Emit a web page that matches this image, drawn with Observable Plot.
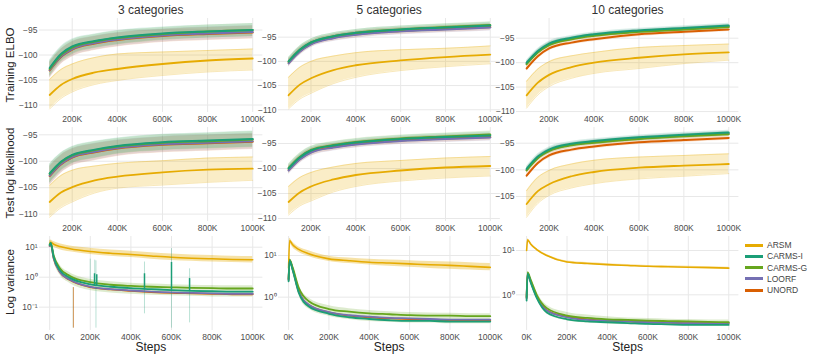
<!DOCTYPE html>
<html><head><meta charset="utf-8">
<script src="https://cdn.jsdelivr.net/npm/d3@7"></script>
<script src="https://cdn.jsdelivr.net/npm/@observablehq/plot@0.6"></script>
<style>
html,body{margin:0;padding:0;background:#fff;}
#root{position:relative;width:814px;height:359px;overflow:hidden;font-family:"Liberation Sans",Arial,sans-serif;}
.t{position:absolute;white-space:nowrap;color:#333;}
.title{font-size:12px;transform:translate(-50%,-50%);}
.ylab{font-size:11.5px;transform:translate(-50%,-50%) rotate(-90deg);color:#222;}
.steps{font-size:12px;transform:translate(-50%,-50%);color:#222;}
.leg{position:absolute;left:745px;font-size:8.5px;color:#444;}
.leg .sw{position:absolute;left:0;width:18px;height:3px;}
.leg .tx{position:absolute;left:22px;transform:translateY(-50%);white-space:nowrap;}
svg{position:absolute;overflow:visible;}
</style></head>
<body><div id="root"></div>
<script>
// ---------- data ----------
const METHODS = ["ARSM", "CARMS-I", "CARMS-G", "LOORF", "UNORD"];
const COLORS = ["#E6AB02", "#1B9E77", "#66A61E", "#7570B3", "#D95F02"];
const colTitles = ["3 categories", "5 categories", "10 categories"];
const rowTitles = ["Training ELBO", "Test log likelihood", "Log variance"];

const stepsK = [100, 150, 200, 300, 400, 600, 800, 1000];
const stepsVarK = [0, 5, 20, 50, 100, 200, 300, 400, 500, 600, 700, 800, 900, 1000];
const xTicksTop = [200, 400, 600, 800, 1000];
const xTicksVar = [0, 200, 400, 600, 800, 1000];
const elboTicks = [-110, -105, -100, -95];

// Training ELBO, 3 categories
const elbo3_ARSM = [-108.0, -106.0, -104.8, -103.5, -102.8, -101.8, -101.1, -100.7];
const elbo3_ARSM_lo = [-110.8, -108.7, -107.4, -105.9, -105.1, -104.1, -103.4, -103.0];
const elbo3_ARSM_hi = [-104.9, -102.9, -101.8, -100.5, -99.8, -99.4, -99.1, -98.8];
const elbo3_CARMSI = [-102.6, -99.8, -98.3, -97.2, -96.5, -95.7, -95.3, -95.0];
const elbo3_CARMSG = [-102.8, -100.0, -98.5, -97.3, -96.6, -95.8, -95.3, -95.0];
const elbo3_LOORF = [-103.0, -100.3, -98.8, -97.6, -96.9, -96.1, -95.7, -95.4];
const elbo3_UNORD = [-103.1, -100.4, -98.9, -97.7, -97.0, -96.2, -95.8, -95.5];
const elbo3_spread = [1.6, 1.5, 1.5, 1.4, 1.4, 1.3, 1.3, 1.3];

// Training ELBO, 5 categories
const elbo5_ARSM = [-107.0, -104.8, -103.5, -101.8, -100.8, -99.8, -99.1, -98.6];
const elbo5_ARSM_lo = [-109.8, -107.8, -106.6, -104.6, -103.3, -101.9, -101.1, -100.5];
const elbo5_ARSM_hi = [-103.3, -101.2, -100.0, -98.9, -98.2, -97.6, -97.3, -96.8];
const elbo5_CARMSI = [-100.0, -97.6, -96.1, -94.8, -94.1, -93.4, -93.0, -92.6];
const elbo5_CARMSG = [-100.0, -97.6, -96.1, -94.8, -94.1, -93.4, -92.9, -92.5];
const elbo5_LOORF = [-100.4, -98.0, -96.5, -95.2, -94.5, -93.8, -93.4, -93.0];
const elbo5_UNORD = [-100.3, -97.9, -96.4, -95.1, -94.4, -93.7, -93.3, -92.9];
const elbo5_spread = [0.8, 0.8, 0.7, 0.7, 0.7, 0.7, 0.7, 0.7];

// Training ELBO, 10 categories
const elbo10_ARSM = [-106.7, -104.1, -102.5, -100.9, -100.0, -99.0, -98.3, -97.9];
const elbo10_ARSM_lo = [-109.3, -106.6, -104.9, -103.2, -102.2, -101.2, -100.2, -99.5];
const elbo10_ARSM_hi = [-103.8, -101.3, -99.8, -98.6, -97.9, -96.9, -96.5, -96.2];
const elbo10_CARMSI = [-100.0, -97.6, -96.1, -94.9, -94.2, -93.4, -92.9, -92.4];
const elbo10_CARMSG = [-100.3, -97.9, -96.4, -95.2, -94.5, -93.7, -93.2, -92.7];
const elbo10_LOORF = [-100.2, -97.8, -96.3, -95.1, -94.4, -93.6, -93.1, -92.6];
const elbo10_UNORD = [-101.2, -98.7, -97.1, -95.9, -95.2, -94.2, -93.7, -93.2];
const elbo10_spread = [0.5, 0.5, 0.5, 0.45, 0.45, 0.45, 0.45, 0.45];

// Test log likelihood, 3 categories
const test3_ARSM = [-107.7, -105.9, -104.9, -103.6, -102.9, -102.1, -101.6, -101.4];
const test3_ARSM_lo = [-110.6, -108.8, -107.7, -106.0, -105.1, -104.5, -104.0, -103.6];
const test3_ARSM_hi = [-104.6, -102.7, -101.7, -100.9, -100.4, -99.9, -99.4, -99.2];
const test3_CARMSI = [-102.3, -100.1, -98.8, -97.8, -97.1, -96.4, -96.1, -95.8];
const test3_CARMSG = [-102.4, -100.2, -98.9, -97.9, -97.2, -96.5, -96.2, -95.9];
const test3_LOORF = [-102.7, -100.5, -99.2, -98.2, -97.5, -96.8, -96.5, -96.2];
const test3_UNORD = [-102.8, -100.6, -99.3, -98.3, -97.6, -96.9, -96.6, -96.3];
const test3_spread = [1.8, 1.7, 1.6, 1.6, 1.5, 1.5, 1.5, 1.5];

// Test log likelihood, 5 categories
const test5_ARSM = [-106.7, -104.8, -103.6, -102.2, -101.3, -100.4, -99.8, -99.5];
const test5_ARSM_lo = [-109.3, -107.5, -106.5, -104.7, -103.6, -102.5, -101.9, -101.5];
const test5_ARSM_hi = [-103.6, -101.8, -100.8, -99.7, -99.0, -98.4, -97.9, -97.6];
const test5_CARMSI = [-100.0, -97.8, -96.4, -95.4, -94.8, -94.1, -93.7, -93.4];
const test5_CARMSG = [-99.9, -97.7, -96.3, -95.3, -94.7, -94.0, -93.6, -93.2];
const test5_LOORF = [-100.4, -98.2, -96.8, -95.8, -95.2, -94.5, -94.1, -93.8];
const test5_UNORD = [-100.3, -98.1, -96.7, -95.7, -95.1, -94.4, -94.0, -93.7];
const test5_spread = [0.8, 0.8, 0.75, 0.7, 0.7, 0.7, 0.7, 0.7];

// Test log likelihood, 10 categories
const test10_ARSM = [-106.4, -104.0, -102.7, -101.2, -100.4, -99.6, -99.2, -98.9];
const test10_ARSM_lo = [-108.9, -106.3, -104.8, -103.4, -102.6, -101.7, -101.2, -100.7];
const test10_ARSM_hi = [-103.9, -101.4, -100.1, -98.9, -98.2, -97.6, -97.3, -97.0];
const test10_CARMSI = [-99.8, -97.5, -96.2, -95.1, -94.6, -93.9, -93.4, -93.0];
const test10_CARMSG = [-100.1, -97.8, -96.5, -95.4, -94.9, -94.2, -93.7, -93.3];
const test10_LOORF = [-100.0, -97.7, -96.4, -95.3, -94.8, -94.1, -93.6, -93.2];
const test10_UNORD = [-101.1, -98.7, -97.3, -96.2, -95.6, -94.8, -94.4, -94.0];
const test10_spread = [0.5, 0.5, 0.5, 0.45, 0.45, 0.45, 0.45, 0.45];

// Log variance, 3 categories
const var3_ARSM = [13, 14.5, 12.5, 10.5, 8.9, 7.2, 6.3, 5.7, 5.1, 4.6, 4.3, 4.1, 3.9, 3.8];
const var3_ARSM_lo = [9.5, 11, 10, 8.3, 7.0, 5.7, 5.0, 4.5, 4.0, 3.6, 3.4, 3.2, 3.1, 3.0];
const var3_ARSM_hi = [16, 17.5, 15.5, 13, 11, 9.2, 8.0, 7.3, 6.5, 5.9, 5.5, 5.3, 5.0, 4.9];
const var3_CARMSI = [12, 14, 4.6, 1.7, 0.95, 0.58, 0.48, 0.43, 0.40, 0.37, 0.35, 0.34, 0.33, 0.33];
const var3_CARMSG = [12, 14, 5.2, 2.0, 1.1, 0.68, 0.56, 0.51, 0.48, 0.46, 0.44, 0.43, 0.42, 0.42];
const var3_LOORF = [11, 13, 4.3, 1.5, 0.82, 0.48, 0.40, 0.36, 0.33, 0.31, 0.30, 0.29, 0.28, 0.28];
const var3_UNORD = [11, 13, 4.2, 1.5, 0.80, 0.47, 0.39, 0.35, 0.32, 0.30, 0.29, 0.28, 0.27, 0.27];
const var3_band_lo = [9, 11, 3.5, 1.2, 0.62, 0.36, 0.30, 0.27, 0.25, 0.24, 0.23, 0.22, 0.22, 0.22];
const var3_band_hi = [15, 17, 6.5, 2.6, 1.4, 0.85, 0.70, 0.63, 0.59, 0.56, 0.54, 0.53, 0.52, 0.52];
// spikes of CARMS-I (and one of UNORD) in the 3-category variance panel
const spikeLightX = [116, 200, 222, 228, 467, 600, 689];
const spikeLightLo = [0.02, 0.55, 0.5, 0.02, 0.06, 0.02, 0.03];
const spikeLightHi = [0.45, 4.0, 3.7, 3.5, 3.2, 9.0, 1.9];
const spikeDarkX = [221, 232, 467, 600, 689];
const spikeDarkLo = [0.5, 0.5, 0.38, 0.37, 0.35];
const spikeDarkHi = [1.3, 1.2, 1.3, 3.1, 0.9];
const spikeUnordX = [117];
const spikeUnordLo = [0.02];
const spikeUnordHi = [0.45];

// Log variance, 5 categories
const var5_ARSM = [5, 23, 18, 14, 11, 8.3, 7.5, 6.9, 6.6, 6.3, 6.0, 5.8, 5.5, 5.2];
const var5_ARSM_lo = [4.3, 20, 15.5, 12, 9.5, 7.2, 6.4, 5.9, 5.5, 5.2, 4.9, 4.7, 4.5, 4.3];
const var5_ARSM_hi = [5.8, 26, 21, 16, 13, 9.6, 8.7, 8.1, 7.8, 7.5, 7.2, 7.0, 6.7, 6.4];
const var5_CARMSI = [2.4, 7.5, 4.5, 1.3, 0.60, 0.40, 0.33, 0.30, 0.28, 0.27, 0.27, 0.26, 0.26, 0.26];
const var5_CARMSG = [2.8, 8.0, 5.2, 1.7, 0.80, 0.52, 0.45, 0.41, 0.39, 0.37, 0.36, 0.36, 0.35, 0.35];
const var5_LOORF = [2.6, 7.6, 4.8, 1.4, 0.66, 0.44, 0.37, 0.34, 0.32, 0.31, 0.30, 0.29, 0.29, 0.29];
const var5_UNORD = [2.6, 7.6, 4.7, 1.4, 0.65, 0.43, 0.36, 0.33, 0.31, 0.30, 0.29, 0.28, 0.28, 0.28];
const var5_band_lo = [2.2, 7.0, 4.0, 1.15, 0.52, 0.35, 0.29, 0.26, 0.25, 0.24, 0.24, 0.23, 0.23, 0.23];
const var5_band_hi = [3.2, 8.6, 6.0, 2.0, 0.95, 0.62, 0.53, 0.48, 0.45, 0.43, 0.42, 0.41, 0.40, 0.40];

// Log variance, 10 categories
const var10_ARSM = [10, 17.4, 14, 10.5, 7.7, 5.5, 5.1, 4.8, 4.6, 4.4, 4.3, 4.2, 4.1, 4.0];
const var10_ARSM_lo = [9.3, 16.4, 13.2, 9.9, 7.3, 5.2, 4.85, 4.55, 4.35, 4.2, 4.1, 4.0, 3.9, 3.8];
const var10_ARSM_hi = [10.7, 18.4, 14.8, 11.1, 8.1, 5.8, 5.35, 5.05, 4.85, 4.6, 4.5, 4.4, 4.3, 4.2];
const var10_CARMSI = [0.74, 3.0, 1.9, 0.85, 0.40, 0.28, 0.25, 0.24, 0.23, 0.22, 0.215, 0.21, 0.21, 0.21];
const var10_CARMSG = [0.90, 3.2, 2.2, 1.0, 0.50, 0.34, 0.30, 0.28, 0.27, 0.26, 0.255, 0.25, 0.245, 0.24];
const var10_LOORF = [0.85, 3.0, 2.0, 0.90, 0.44, 0.31, 0.27, 0.26, 0.25, 0.24, 0.235, 0.23, 0.23, 0.23];
const var10_UNORD = [0.85, 3.0, 2.0, 0.92, 0.45, 0.32, 0.28, 0.26, 0.25, 0.24, 0.235, 0.23, 0.23, 0.23];
const var10_band_lo = [0.7, 2.8, 1.8, 0.80, 0.37, 0.26, 0.23, 0.22, 0.21, 0.205, 0.20, 0.20, 0.195, 0.195];
const var10_band_hi = [1.0, 3.4, 2.5, 1.15, 0.58, 0.40, 0.35, 0.32, 0.30, 0.29, 0.28, 0.275, 0.27, 0.27];

// ---------- layout ----------
const root = document.getElementById("root");
const COLS = [{L: 39.1, R: 262.5}, {L: 278.2, R: 500.1}, {L: 516.4, R: 738.8}];
const ROWS = [{T: 18, B: 112}, {T: 127, B: 221}, {T: 236, B: 330}];
const FONT = "'Liberation Sans', Arial, sans-serif";
const GRID = "#e8e8e8";
const supFmt = d => ({0.1: "10\u207B\u00B9", 1: "10\u2070", 10: "10\u00B9"})[d];

function place(col, row, cfg) {
  const {L, R} = COLS[col], {T, B} = ROWS[row];
  const ml = 40, mr = 6, mt = 4, mb = 18;
  const svg = Plot.plot({
    width: (R - L) + ml + mr, height: (B - T) + mt + mb,
    marginLeft: ml, marginRight: mr, marginTop: mt, marginBottom: mb,
    style: {fontFamily: FONT, fontSize: "8.5px", color: "#4d4d4d", background: "transparent", overflow: "visible"},
    x: {domain: cfg.xDomain},
    y: {type: cfg.yType || "linear", domain: cfg.yDomain},
    color: {domain: METHODS, range: COLORS},
    marks: [
      Plot.gridX(cfg.xTicks, {stroke: GRID, strokeOpacity: 1, strokeWidth: 1}),
      Plot.gridY(cfg.yTicks, {stroke: GRID, strokeOpacity: 1, strokeWidth: 1}),
      Plot.axisX(cfg.xTicks, {tickSize: 0, tickPadding: 3, tickFormat: d => d + "K", label: null, fill: "#4d4d4d"}),
      Plot.axisY(cfg.yTicks, {tickSize: 0, tickPadding: 2, tickFormat: cfg.yFormat, label: null, fill: "#4d4d4d"}),
      ...cfg.marks
    ]
  });
  svg.style.left = (L - ml) + "px";
  svg.style.top = (T - mt) + "px";
  root.appendChild(svg);
}

function curveMarks(arsm, lo, hi, series, spread) {
  const arsmRows = stepsK.map((s, i) => ({x: s, y: arsm[i], lo: lo[i], hi: hi[i]}));
  const bandRows = [], lineRows = [];
  for (const [m, arr] of series) {
    stepsK.forEach((s, i) => {
      bandRows.push({m, x: s, y1: arr[i] - spread[i], y2: arr[i] + spread[i]});
      lineRows.push({m, x: s, y: arr[i]});
    });
  }
  return [
    Plot.areaY(arsmRows, {x: "x", y1: "lo", y2: "hi", fill: COLORS[0], fillOpacity: 0.22, curve: "monotone-x"}),
    Plot.line(arsmRows, {x: "x", y: "lo", stroke: COLORS[0], strokeOpacity: 0.35, strokeWidth: 0.8, curve: "monotone-x"}),
    Plot.line(arsmRows, {x: "x", y: "hi", stroke: COLORS[0], strokeOpacity: 0.35, strokeWidth: 0.8, curve: "monotone-x"}),
    Plot.areaY(bandRows, {x: "x", y1: "y1", y2: "y2", z: "m", fill: "m", fillOpacity: 0.16, curve: "monotone-x"}),
    Plot.line(arsmRows, {x: "x", y: "y", stroke: COLORS[0], strokeWidth: 1.8, curve: "monotone-x"}),
    Plot.line(lineRows, {x: "x", y: "y", z: "m", stroke: "m", strokeWidth: 2, curve: "monotone-x"})
  ];
}

function varMarks(arsm, lo, hi, series, blo, bhi) {
  const arsmRows = stepsVarK.map((s, i) => ({x: s, y: arsm[i], lo: lo[i], hi: hi[i]}));
  const bandRows = stepsVarK.map((s, i) => ({x: s, lo: blo[i], hi: bhi[i]}));
  const lineRows = [];
  for (const [m, arr] of series) stepsVarK.forEach((s, i) => lineRows.push({m, x: s, y: arr[i]}));
  return [
    Plot.areaY(bandRows, {x: "x", y1: "lo", y2: "hi", fill: COLORS[2], fillOpacity: 0.22, curve: "monotone-x"}),
    Plot.areaY(arsmRows, {x: "x", y1: "lo", y2: "hi", fill: COLORS[0], fillOpacity: 0.35, curve: "monotone-x"}),
    Plot.line(arsmRows, {x: "x", y: "y", stroke: COLORS[0], strokeWidth: 1.6, curve: "monotone-x"}),
    Plot.line(lineRows, {x: "x", y: "y", z: "m", stroke: "m", strokeWidth: 1.8, curve: "monotone-x"})
  ];
}

const order = (cI, cG, lo, un) => [["UNORD", un], ["LOORF", lo], ["CARMS-G", cG], ["CARMS-I", cI]];
const topX = [55, 1045], varX = [-50, 1050];

// Row 1: Training ELBO
place(0, 0, {xDomain: topX, xTicks: xTicksTop, yDomain: [-111.5, -92.7], yTicks: elboTicks,
  marks: curveMarks(elbo3_ARSM, elbo3_ARSM_lo, elbo3_ARSM_hi, order(elbo3_CARMSI, elbo3_CARMSG, elbo3_LOORF, elbo3_UNORD), elbo3_spread)});
place(1, 0, {xDomain: topX, xTicks: xTicksTop, yDomain: [-110.56, -91.14], yTicks: elboTicks,
  marks: curveMarks(elbo5_ARSM, elbo5_ARSM_lo, elbo5_ARSM_hi, order(elbo5_CARMSI, elbo5_CARMSG, elbo5_LOORF, elbo5_UNORD), elbo5_spread)});
place(2, 0, {xDomain: topX, xTicks: xTicksTop, yDomain: [-110.19, -90.97], yTicks: elboTicks,
  marks: curveMarks(elbo10_ARSM, elbo10_ARSM_lo, elbo10_ARSM_hi, order(elbo10_CARMSI, elbo10_CARMSG, elbo10_LOORF, elbo10_UNORD), elbo10_spread)});

// Row 2: Test log likelihood
place(0, 1, {xDomain: topX, xTicks: xTicksTop, yDomain: [-111.39, -93.62], yTicks: elboTicks,
  marks: curveMarks(test3_ARSM, test3_ARSM_lo, test3_ARSM_hi, order(test3_CARMSI, test3_CARMSG, test3_LOORF, test3_UNORD), test3_spread)});
place(1, 1, {xDomain: topX, xTicks: xTicksTop, yDomain: [-110.6, -91.8], yTicks: elboTicks,
  marks: curveMarks(test5_ARSM, test5_ARSM_lo, test5_ARSM_hi, order(test5_CARMSI, test5_CARMSG, test5_LOORF, test5_UNORD), test5_spread)});
place(2, 1, {xDomain: topX, xTicks: xTicksTop, yDomain: [-109.69, -92.05], yTicks: [-105, -100, -95],
  marks: curveMarks(test10_ARSM, test10_ARSM_lo, test10_ARSM_hi, order(test10_CARMSI, test10_CARMSG, test10_LOORF, test10_UNORD), test10_spread)});

// Row 3: Log variance
const spikeLight = spikeLightX.map((x, i) => ({x, y1: spikeLightLo[i], y2: spikeLightHi[i]}));
const spikeDark = spikeDarkX.map((x, i) => ({x, y1: spikeDarkLo[i], y2: spikeDarkHi[i]}));
const spikeUnord = spikeUnordX.map((x, i) => ({x, y1: spikeUnordLo[i], y2: spikeUnordHi[i]}));
place(0, 2, {xDomain: varX, xTicks: xTicksVar, yType: "log", yDomain: [Math.pow(10, -1.777), Math.pow(10, 1.357)], yTicks: [0.1, 1, 10], yFormat: supFmt,
  marks: [
    ...varMarks(var3_ARSM, var3_ARSM_lo, var3_ARSM_hi, order(var3_CARMSI, var3_CARMSG, var3_LOORF, var3_UNORD), var3_band_lo, var3_band_hi),
    Plot.ruleX(spikeLight, {x: "x", y1: "y1", y2: "y2", stroke: COLORS[1], strokeOpacity: 0.3, strokeWidth: 1}),
    Plot.ruleX(spikeUnord, {x: "x", y1: "y1", y2: "y2", stroke: COLORS[4], strokeOpacity: 0.6, strokeWidth: 1}),
    Plot.ruleX(spikeDark, {x: "x", y1: "y1", y2: "y2", stroke: COLORS[1], strokeWidth: 1.5})
  ]});
place(1, 2, {xDomain: varX, xTicks: xTicksVar, yType: "log", yDomain: [Math.pow(10, -0.799), Math.pow(10, 1.456)], yTicks: [1, 10], yFormat: supFmt,
  marks: varMarks(var5_ARSM, var5_ARSM_lo, var5_ARSM_hi, order(var5_CARMSI, var5_CARMSG, var5_LOORF, var5_UNORD), var5_band_lo, var5_band_hi)});
place(2, 2, {xDomain: varX, xTicks: xTicksVar, yType: "log", yDomain: [Math.pow(10, -0.806), Math.pow(10, 1.316)], yTicks: [1, 10], yFormat: supFmt,
  marks: varMarks(var10_ARSM, var10_ARSM_lo, var10_ARSM_hi, order(var10_CARMSI, var10_CARMSG, var10_LOORF, var10_UNORD), var10_band_lo, var10_band_hi)});

// ---------- text ----------
function addText(cls, txt, x, y) {
  const d = document.createElement("div");
  d.className = "t " + cls; d.textContent = txt;
  d.style.left = x + "px"; d.style.top = y + "px";
  root.appendChild(d);
}
colTitles.forEach((t, i) => addText("title", t, (COLS[i].L + COLS[i].R) / 2, 10));
addText("ylab", rowTitles[0], 10, 65);
addText("ylab", rowTitles[1], 10, 173);
addText("ylab", rowTitles[2], 10, 282);
COLS.forEach(c => addText("steps", "Steps", (c.L + c.R) / 2, 347));

// legend
const leg = document.createElement("div");
leg.className = "leg"; leg.style.top = "0px";
const legY = [245, 256.3, 267.6, 278.9, 290.2];
METHODS.forEach((m, i) => {
  const sw = document.createElement("div");
  sw.className = "sw"; sw.style.background = COLORS[i]; sw.style.top = (legY[i] - 1.5) + "px";
  const tx = document.createElement("div");
  tx.className = "tx"; tx.textContent = m; tx.style.top = legY[i] + "px";
  leg.appendChild(sw); leg.appendChild(tx);
});
root.appendChild(leg);
</script>
</body></html>
